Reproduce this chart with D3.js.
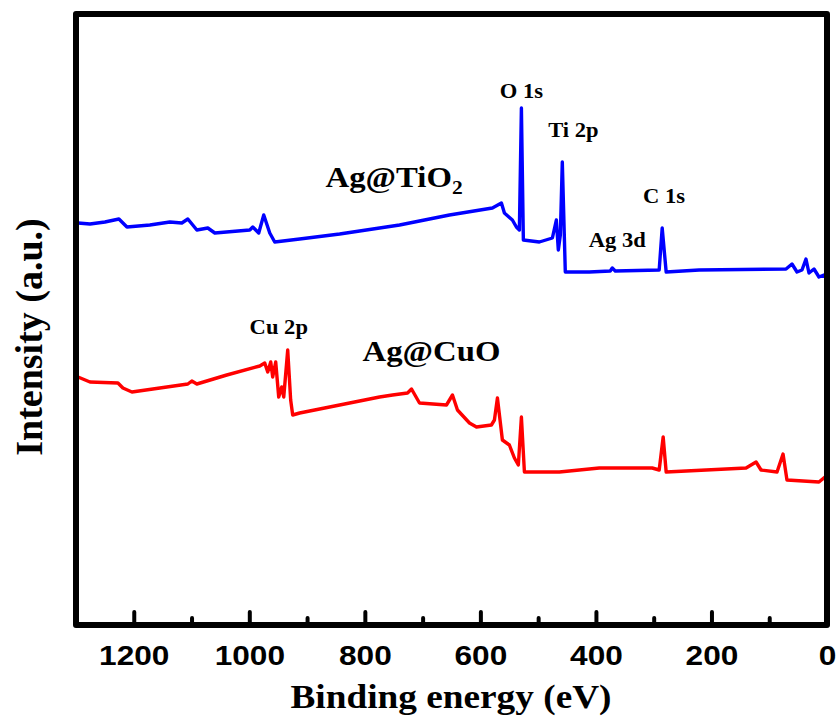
<!DOCTYPE html>
<html><head><meta charset="utf-8">
<script src="https://cdn.jsdelivr.net/npm/d3@7"></script>
<style>body{margin:0;background:#fff}svg{display:block}</style>
</head><body><svg id="c" width="840" height="719"></svg>
<script>
// Binding energy (eV), intensity (a.u.)
const tio2Energy = [1296.5,1275.8,1249.9,1225.7,1211.8,1172.1,1137.5,1116.8,1106.4,1090.8,1071.8,1059.7,999.2,994.0,983.7,975.0,964.6,956.0,912.8,843.6,739.9,653.5,579.2,563.6,558.4,544.6,537.7,532.5,529.0,525.6,497.9,475.4,468.5,465.1,461.6,458.2,453.0,411.5,375.2,371.7,366.5,290.5,285.3,278.4,221.3,70.9,60.6,51.9,43.3,36.4,31.2,22.5,13.9,5.3,0.1];
const tio2Intensity = [402,401,403,406,398,400,403,402,406,395,397,392,395,398,392,410,392,383,386,391,400,410,417,422,412,405,398,395,517,385,383,387,405,375,390,463,353,353,354,357,354,355,397,353,355,356,361,353,355,366,352,356,348,350,346];
const cuoEnergy = [1296.5,1275.8,1227.4,1218.8,1203.2,1154.8,1106.4,1099.5,1090.8,1039.0,981.9,973.3,968.1,962.9,959.5,954.3,949.1,943.9,940.4,933.5,928.4,924.9,912.8,843.6,774.5,752.0,726.1,719.2,705.4,658.7,648.3,639.7,618.9,606.8,580.9,575.7,570.5,561.9,549.8,541.1,534.3,529.0,523.8,463.3,394.2,371.7,302.6,290.5,283.6,278.4,140.1,122.8,114.2,86.5,76.1,69.3,13.9,3.5,0.1];
const cuoIntensity = [248,243,242,237,233,237,241,244,241,250,259,262,253,263,248,263,228,238,228,275,225,210,212,220,228,230,232,236,222,220,230,215,202,198,200,205,227,185,180,167,160,208,153,153,157,157,157,155,188,153,157,163,155,153,171,145,143,148,138];
const majorTicks = [1200,1000,800,600,400,200,0];
const minorTicks = [1100,900,700,500,300,100];
const peakLabels = [
  {text:"O 1s", e:529, v:527},
  {text:"Ti 2p", e:439, v:488},
  {text:"C 1s", e:282, v:422},
  {text:"Ag 3d", e:363, v:378},
  {text:"Cu 2p", e:949, v:291}
];
const sampleLabels = [
  {name:"Ag@TiO", sub:"2", e:868, v:438},
  {name:"Ag@CuO", sub:"", e:804, v:264}
];

const svg = d3.select("#c");
const L=76, R=827, T=14, B=625;
const x = d3.scaleLinear().domain([1300,0]).range([L,R]);
const y = d3.scaleLinear().domain([0,611]).range([B,T]);
const SX = 1.13;

const line = d3.line().x(d=>x(d[0])).y(d=>y(d[1]));
function drawSeries(E,I,color){
  svg.append("path").datum(E.map((e,i)=>[e,I[i]]))
    .attr("d",line).attr("fill","none").attr("stroke",color)
    .attr("stroke-width",3.4).attr("stroke-linejoin","round").attr("stroke-linecap","round");
}
drawSeries(tio2Energy,tio2Intensity,"#0000ff");
drawSeries(cuoEnergy,cuoIntensity,"#ff0000");

// frame
svg.append("rect").attr("x",L).attr("y",T).attr("width",R-L).attr("height",B-T)
  .attr("fill","none").attr("stroke","#000").attr("stroke-width",6).attr("stroke-linejoin","round");

// axes
const ax = svg.append("g").attr("transform",`translate(0,${B})`)
  .call(d3.axisBottom(x).tickValues(majorTicks).tickSize(-13).tickFormat(d3.format("d")));
ax.select(".domain").remove();
ax.selectAll(".tick line").attr("stroke","#000").attr("stroke-width",4).attr("stroke-linecap","round");
ax.selectAll(".tick text").attr("y",40).attr("dy",0).attr("fill","#000")
  .attr("font-family","'Liberation Sans', Arial, sans-serif").attr("font-weight","bold").attr("font-size",28)
  .attr("transform",`scale(${SX},1)`);
const axm = svg.append("g").attr("transform",`translate(0,${B})`)
  .call(d3.axisBottom(x).tickValues(minorTicks).tickSize(-7).tickFormat(""));
axm.select(".domain").remove();
axm.selectAll(".tick line").attr("stroke","#000").attr("stroke-width",4).attr("stroke-linecap","round");

function stext(px,py,txt,size,anchor){
  const g = svg.append("g").attr("transform",`translate(${px},${py}) scale(${SX},1)`);
  const t = g.append("text").attr("text-anchor",anchor||"middle")
    .attr("font-family","'Liberation Serif', 'Times New Roman', serif").attr("font-weight","bold")
    .attr("font-size",size).attr("fill","#000").text(txt);
  return t;
}
peakLabels.forEach(p=>stext(x(p.e),y(p.v),p.text,20,"middle"));
sampleLabels.forEach(s=>{
  const t = stext(x(s.e),y(s.v),s.name,29,"start");
  if(s.sub) t.append("tspan").attr("font-size",19).attr("dy",7).text(s.sub);
});

stext(451,708,"Binding energy (eV)",33,"middle");
svg.append("text").attr("transform","translate(42,337) rotate(-90)")
  .attr("text-anchor","middle").attr("font-family","'Liberation Serif', 'Times New Roman', serif")
  .attr("font-weight","bold").attr("font-size",38).attr("fill","#000").text("Intensity (a.u.)");
</script></body></html>
